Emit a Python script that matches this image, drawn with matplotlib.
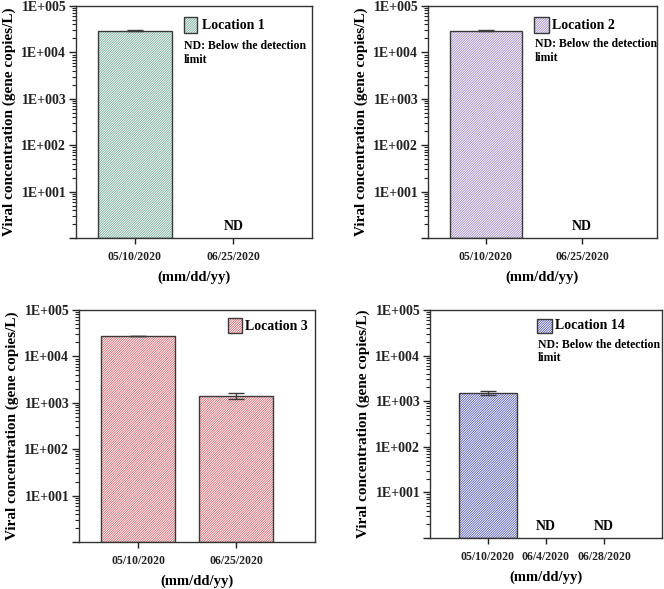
import numpy as np
import matplotlib
matplotlib.use("Agg")
import matplotlib.pyplot as plt
from matplotlib.ticker import LogLocator, FuncFormatter, NullFormatter
from matplotlib.patches import Rectangle
import matplotlib.transforms as mtransforms

plt.rcParams['font.family'] = ['Liberation Serif', 'DejaVu Serif']
plt.rcParams['font.weight'] = 'bold'
plt.rcParams['hatch.linewidth'] = 0.55

# ---- data ----
dates_a = ['05/10/2020', '06/25/2020']
dates_b = ['05/10/2020', '06/4/2020', '06/28/2020']

loc1_vals = [29500, None]
loc1_err = [400, None]
loc2_vals = [29500, None]
loc2_err = [400, None]
loc3_vals = [27500, 1400]
loc3_err = [400, 200]
loc14_vals = [1500, None, None]
loc14_err = [150, None, None]

names = ['Location 1', 'Location 2', 'Location 3', 'Location 14']
hatch_colors = ['#6aa692', '#9a80c4', '#d95a64', '#4a50b8']

W, H = 664, 589
fig = plt.figure(figsize=(W / 100, H / 100), dpi=100)

def rect(l, t, r, b):
    return [l / W, 1 - b / H, (r - l) / W, (b - t) / H]

panels = [
    dict(pos=rect(76, 6, 312, 238), cats=dates_a, vals=loc1_vals, err=loc1_err,
         xlim=(0.4, 2.8), width=0.75, leg=(0.458, 0.884, 0.055, 0.069, 0.534, 0.918),
         nd=(0.458, 0.828, 0.767)),
    dict(pos=rect(428, 6, 657, 238), cats=dates_a, vals=loc2_vals, err=loc2_err,
         xlim=(0.4, 2.78), width=0.75, leg=(0.463, 0.884, 0.065, 0.069, 0.541, 0.918),
         nd=(0.467, 0.836, 0.776)),
    dict(pos=rect(79, 310, 315, 542), cats=dates_a, vals=loc3_vals, err=loc3_err,
         xlim=(0.4, 2.8), width=0.75, leg=(0.631, 0.901, 0.06, 0.065, 0.703, 0.931),
         nd=None),
    dict(pos=rect(430, 310, 662, 538), cats=dates_b, vals=loc14_vals, err=loc14_err,
         xlim=(0.0, 4.0), width=1.0, leg=(0.461, 0.899, 0.065, 0.062, 0.539, 0.930),
         nd=(0.466, 0.846, 0.789)),
]

edge = '#3a3a3a'
HATCH = '/' * 14

for i, p in enumerate(panels):
    ax = fig.add_axes(p['pos'])
    x = np.arange(1, len(p['cats']) + 1)
    hc = hatch_colors[i]
    for xi, v, e in zip(x, p['vals'], p['err']):
        if v is None:
            ax.text(xi, 0.05, 'ND', transform=mtransforms.blended_transform_factory(ax.transData, ax.transAxes),
                    ha='center', va='center', fontsize=10, fontweight='bold')
            continue
        ax.bar(xi, v, width=p['width'], bottom=1, color='white', edgecolor=hc, hatch=HATCH, linewidth=0)
        ax.bar(xi, v, width=p['width'], bottom=1, fill=False, edgecolor=edge, linewidth=1.0)
        ax.errorbar(xi, v, yerr=e, fmt='none', ecolor=edge, elinewidth=1.0, capsize=6, capthick=1.0)
    ax.set_yscale('log')
    ax.set_ylim(1, 1e5)
    ax.set_xlim(*p['xlim'])
    ax.yaxis.set_major_locator(LogLocator(base=10, numticks=10))
    ax.yaxis.set_minor_locator(LogLocator(base=10, subs=np.arange(2, 10), numticks=20))
    ax.yaxis.set_major_formatter(FuncFormatter(lambda v, pos: '' if v < 5 else f"1E+{int(round(np.log10(v))):03d}"))
    ax.yaxis.set_minor_formatter(NullFormatter())
    ax.set_xticks(x)
    ax.set_xticklabels(p['cats'], fontsize=8.5, fontweight='bold')
    for lab in ax.get_yticklabels():
        lab.set_fontsize(10)
        lab.set_fontweight('bold')
    ax.tick_params(axis='y', which='major', direction='out', length=5, width=1.0, colors='#222', pad=2)
    ax.tick_params(axis='y', which='minor', direction='out', length=3, width=0.8, colors='#222')
    ax.tick_params(axis='x', which='major', direction='out', length=4, width=1.0, colors='#222', pad=5)
    for s in ax.spines.values():
        s.set_linewidth(1.0)
        s.set_color('#333')
    ax.set_ylabel('Viral concentration (gene copies/L)', fontsize=11, fontweight='bold', labelpad=4)
    ax.set_xlabel('(mm/dd/yy)', fontsize=10.5, fontweight='bold', labelpad=6)
    lx, ly, lw, lh, tx, ty = p['leg']
    ax.add_patch(Rectangle((lx, ly), lw, lh, transform=ax.transAxes, facecolor='white',
                           edgecolor=hc, hatch=HATCH, linewidth=0, clip_on=False))
    ax.add_patch(Rectangle((lx, ly), lw, lh, transform=ax.transAxes, fill=False,
                           edgecolor=edge, linewidth=1.0, clip_on=False))
    ax.text(tx, ty, names[i], transform=ax.transAxes, ha='left', va='center', fontsize=10, fontweight='bold')
    if p['nd'] is not None:
        nx, ny1, ny2 = p['nd']
        ax.text(nx, ny1, 'ND: Below the detection', transform=ax.transAxes, ha='left', va='center',
                fontsize=8.5, fontweight='bold')
        ax.text(nx, ny2, 'limit', transform=ax.transAxes, ha='left', va='center',
                fontsize=8.5, fontweight='bold')

fig.savefig('out.png', dpi=100)
